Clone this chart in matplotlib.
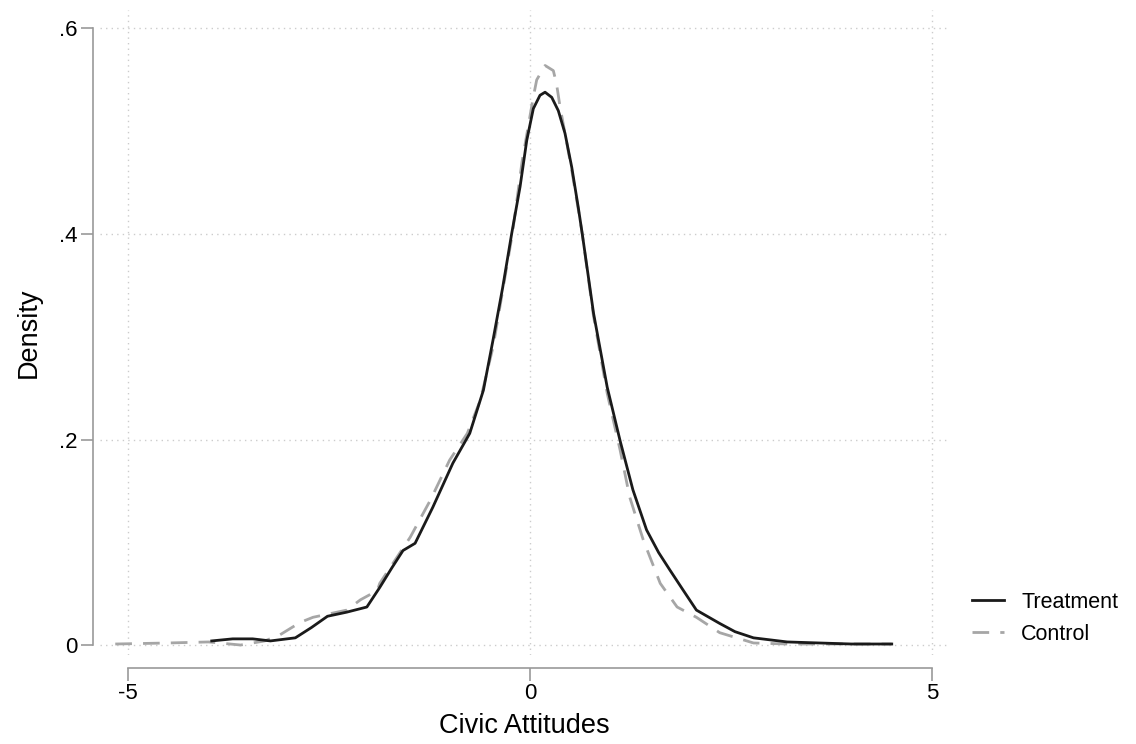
import matplotlib.pyplot as plt

# density estimates
treat_x = [-3.96, -3.7, -3.45, -3.23, -2.92, -2.72, -2.52, -2.28, -2.03, -1.87, -1.72,
           -1.58, -1.43, -1.21, -0.96, -0.75, -0.58, -0.46, -0.34, -0.228, -0.124,
           -0.041, 0.041, 0.124, 0.187, 0.27, 0.352, 0.435, 0.519, 0.6, 0.65, 0.79,
           0.96, 1.12, 1.28, 1.45, 1.6, 1.74, 1.9, 2.07, 2.36, 2.55, 2.78, 3.2, 3.6,
           4.0, 4.5]
treat_y = [0.004, 0.006, 0.006, 0.004, 0.007, 0.017, 0.028, 0.032, 0.037, 0.056, 0.075,
           0.092, 0.099, 0.134, 0.177, 0.206, 0.248, 0.297, 0.348, 0.4005, 0.446,
           0.491, 0.522, 0.535, 0.538, 0.533, 0.52, 0.498, 0.465, 0.426, 0.40, 0.323,
           0.251, 0.199, 0.151, 0.112, 0.09, 0.073, 0.054, 0.034, 0.021, 0.013, 0.007,
           0.003, 0.002, 0.001, 0.001]

ctrl_x = [-5.16, -4.5, -4.0, -3.6, -3.3, -3.11, -2.86, -2.7, -2.28, -2.11, -1.9, -1.87,
          -1.49, -1.24, -1.0, -0.78, -0.62, -0.46, -0.34, -0.22, -0.1, 0.04, 0.083,
          0.187, 0.29, 0.33, 0.373, 0.435, 0.519, 0.6, 0.65, 0.79, 0.96, 1.12, 1.24,
          1.41, 1.62, 1.83, 2.07, 2.36, 2.78, 3.2, 3.6, 4.0, 4.5]
ctrl_y = [0.001, 0.002, 0.003, 0.0, 0.004, 0.01, 0.022, 0.027, 0.034, 0.044, 0.053, 0.06,
          0.105, 0.141, 0.18, 0.206, 0.238, 0.29, 0.345, 0.40, 0.47, 0.533, 0.55,
          0.564, 0.559, 0.546, 0.524, 0.498, 0.462, 0.424, 0.40, 0.32, 0.245, 0.19, 0.144,
          0.102, 0.06, 0.037, 0.027, 0.012, 0.002, 0.001, 0.001, 0.001, 0.001]

x_ticks = [-5, 0, 5]
x_labels = ["-5", "0", "5"]
y_ticks = [0, 0.2, 0.4, 0.6]
y_labels = ["0", ".2", ".4", ".6"]

plt.rcParams['font.family'] = ['Liberation Sans', 'DejaVu Sans']

fig = plt.figure(figsize=(11.36, 7.44), dpi=100)
ax = fig.add_axes([100/1136, 1 - 655/744, 848/1136, 645/744])

ax.plot(treat_x, treat_y, color="#1a1a1a", lw=2, label="Treatment", zorder=3,
        solid_joinstyle="round")
ax.plot(ctrl_x, ctrl_y, color="#a6a6a6", lw=2, ls=(0, (6, 4)), label="Control", zorder=2)

ax.set_xlim(-5.35, 5.2)
ax.set_ylim(-0.0097, 0.618)

ax.set_xticks(x_ticks)
ax.set_xticklabels(x_labels)
ax.set_yticks(y_ticks)
ax.set_yticklabels(y_labels)
ax.grid(True, color="#cccccc", ls=(0, (1, 3)), lw=1)

for s in ["top", "right"]:
    ax.spines[s].set_visible(False)
ax.spines["left"].set_position(("outward", 5))
ax.spines["left"].set_bounds(0, 0.6)
ax.spines["bottom"].set_position(("outward", 9))
ax.spines["bottom"].set_bounds(-5, 5)
for s in ["left", "bottom"]:
    ax.spines[s].set_color("#999999")
    ax.spines[s].set_linewidth(1.2)
ax.tick_params(colors="#999999", length=9, width=1.2, labelcolor="black", labelsize=16,
               pad=2.5)

ax.set_xlabel("Civic Attitudes", fontsize=19.5, labelpad=6)
ax.set_ylabel("Density", fontsize=19.5, labelpad=12)

ax.legend(loc="center left", bbox_to_anchor=(1.005, 0.057), frameon=False, fontsize=15.5,
          handlelength=1.5, handletextpad=0.8, labelspacing=0.5)

fig.savefig("out.png", dpi=100)
